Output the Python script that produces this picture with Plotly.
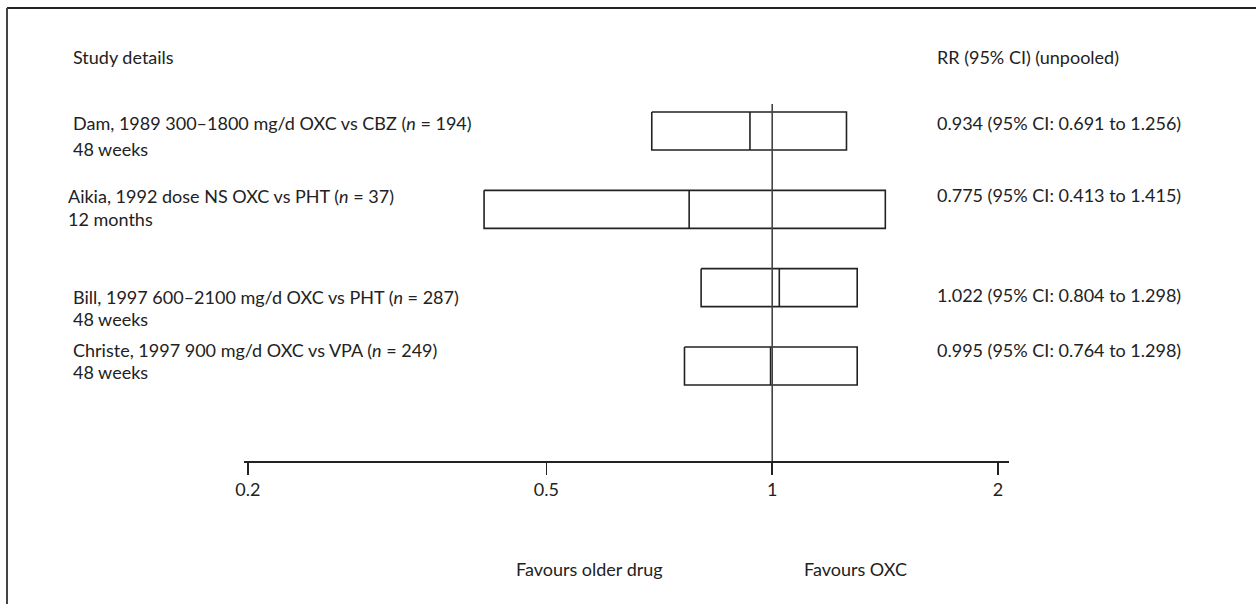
import plotly.graph_objects as go

# ---------------- data ----------------
studies = [
    "Dam, 1989 300–1800 mg/d OXC vs CBZ (<i>n</i> = 194)",
    "Aikia, 1992 dose NS OXC vs PHT (<i>n</i> = 37)",
    "Bill, 1997 600–2100 mg/d OXC vs PHT (<i>n</i> = 287)",
    "Christe, 1997 900 mg/d OXC vs VPA (<i>n</i> = 249)",
]
durations = ["48 weeks", "12 months", "48 weeks", "48 weeks"]
rr = [0.934, 0.775, 1.022, 0.995]
ci_low = [0.691, 0.413, 0.804, 0.764]
ci_high = [1.256, 1.415, 1.298, 1.298]
tick_vals = [0.2, 0.5, 1, 2]
tick_text = ["0.2", "0.5", "1", "2"]
null_value = 1
header_left = "Study details"
header_right = "RR (95% CI) (unpooled)"
label_left = "Favours older drug"
label_right = "Favours OXC"

# ---------------- layout geometry (pixels) ----------------
W, H = 1256, 604
L, R, T, B = 244, 247, 104, 143
plot_w = W - L - R
plot_h = H - T - B
plot_bottom = H - B
FONT = "Lato, 'Open Sans', sans-serif"
FS = 18
INK = "#222222"

def px_x(px):
    return (px - L) / plot_w

def px_y(py):
    return (plot_bottom - py) / plot_h

row_top_px, row_step_px = 131, 78.33
y_top = -(row_top_px - T) / row_step_px
y_bot = (plot_bottom - row_top_px) / row_step_px
half_h = 19 / row_step_px

fig = go.Figure()

# boxes (CI) with median line
bx, by = [], []
for i, (lo, hi, m) in enumerate(zip(ci_low, ci_high, rr)):
    bx += [lo, hi, hi, lo, lo, None, m, m, None]
    by += [i - half_h, i - half_h, i + half_h, i + half_h, i - half_h, None,
           i - half_h, i + half_h, None]
fig.add_trace(go.Scatter(x=bx, y=by, mode="lines",
                         line=dict(color=INK, width=1.6),
                         hoverinfo="skip", showlegend=False))

# null line
fig.add_trace(go.Scatter(x=[null_value, null_value], y=[y_top, y_bot],
                         mode="lines", line=dict(color="#444444", width=1.6),
                         hoverinfo="skip", showlegend=False))

ann = []
def add_text(txt, px, py, anchor="left"):
    ann.append(dict(text=txt, x=px_x(px), y=px_y(py), xref="paper", yref="paper",
                    xanchor=anchor, yanchor="middle", showarrow=False,
                    font=dict(family=FONT, size=FS, color=INK)))

add_text(header_left, 71, 57)
add_text(header_right, 935, 57)

left_x = [71, 66, 71, 71]
line1_y = [123, 196, 297, 350]
line2_gap = [26, 23, 22, 22]
right_y = [123, 195, 295, 350]
for i in range(len(studies)):
    add_text(studies[i], left_x[i], line1_y[i])
    add_text(durations[i], left_x[i], line1_y[i] + line2_gap[i])
    add_text(f"{rr[i]:.3f} (95% CI: {ci_low[i]:.3f} to {ci_high[i]:.3f})",
             935, right_y[i])

add_text(label_left, 514, 569)
add_text(label_right, 802, 569)

shapes = [
    dict(type="line", xref="paper", yref="paper", x0=px_x(7), x1=px_x(W + 5),
         y0=px_y(8), y1=px_y(8), line=dict(color=INK, width=2)),
    dict(type="line", xref="paper", yref="paper", x0=px_x(7), x1=px_x(7),
         y0=px_y(8), y1=px_y(H + 5), line=dict(color="#444444", width=2)),
]

fig.update_layout(
    width=W, height=H, autosize=False,
    margin=dict(l=L, r=R, t=T, b=B, pad=0),
    paper_bgcolor="white", plot_bgcolor="white",
    annotations=ann, shapes=shapes,
    font=dict(family=FONT, size=FS, color=INK),
    xaxis=dict(type="log", range=[-0.704, 0.3156],
               tickvals=tick_vals, ticktext=tick_text,
               ticks="outside", ticklen=12, tickwidth=1.6, tickcolor=INK,
               showline=True, linecolor=INK, linewidth=1.6,
               showgrid=False, zeroline=False,
               tickfont=dict(family=FONT, size=FS, color=INK)),
    yaxis=dict(range=[y_bot, y_top], showgrid=False, zeroline=False,
               showticklabels=False, showline=False, ticks=""),
)

fig.write_html("out.html",
               config={"displayModeBar": False, "staticPlot": True},
               post_script="document.body.style.margin='0';document.body.style.overflow='hidden';")
